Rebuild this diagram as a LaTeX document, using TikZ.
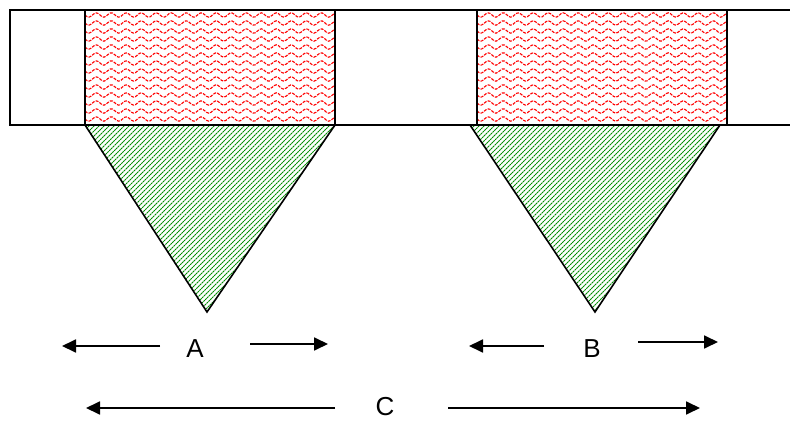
\documentclass[tikz,border=0pt]{standalone}
\usepackage{fontspec}
\setmainfont{Liberation Sans}
\usetikzlibrary{arrows.meta}
\begin{document}
\begin{tikzpicture}[x=1pt,y=-1pt,
  outline/.style={line width=1.6pt,black},
  dimarrow/.style={line width=1.8pt,-{Triangle[length=14pt,width=13pt]}},
  lbl/.style={font=\fontsize{26}{30}\selectfont,inner sep=0pt},
  wave/.style={red,line width=1.1pt,dash pattern=on 3pt off 1.2pt},
  hatch/.style={green!55!black,line width=1pt,dash pattern=on 2pt off 0.6pt}]
\useasboundingbox (0,0) rectangle (790,422);
% red wavy fills
\foreach \xa/\xb in {85/335,477/727}{
  \begin{scope}
    \clip (\xa,10) rectangle (\xb,125);
    \foreach \yy in {15,23,...,123}{
      \draw[wave] plot[domain=\xa:\xb,samples=120] (\x,{\yy+2.2*sin(24*(\x-\xa))});
    }
  \end{scope}
}
% green hatch triangles
\coordinate (ta1) at (85,125); \coordinate (ta2) at (335,125); \coordinate (ta3) at (207,312);
\coordinate (tb1) at (470,125); \coordinate (tb2) at (720,125); \coordinate (tb3) at (595,312);
\begin{scope}
  \clip (ta1) -- (ta2) -- (ta3) -- cycle;
  \foreach \s in {-120,-115,...,360}{\draw[hatch] (\s,320) -- (\s+200,120);}
\end{scope}
\begin{scope}
  \clip (tb1) -- (tb2) -- (tb3) -- cycle;
  \foreach \s in {260,265,...,740}{\draw[hatch] (\s,320) -- (\s+200,120);}
\end{scope}
% band outlines
\draw[outline] (790,10) -- (10,10) -- (10,125) -- (790,125);
\draw[outline] (85,10) -- (85,125) (335,10) -- (335,125);
\draw[outline] (477,10) -- (477,125) (727,10) -- (727,125);
\draw[outline] (ta1) -- (ta3) -- (ta2);
\draw[outline] (tb1) -- (tb3) -- (tb2);
% labels
\node[lbl] (A) at (195,349) {A};
\node[lbl] (B) at (592,349) {B};
\node[lbl] (C) at (385,407) {C};
\coordinate (a1) at (160,346); \coordinate (a1e) at (62,346);
\coordinate (a2) at (250,344); \coordinate (a2e) at (328,344);
\coordinate (b1) at (544,346); \coordinate (b1e) at (469,346);
\coordinate (b2) at (638,342); \coordinate (b2e) at (718,342);
\coordinate (c1) at (335,408); \coordinate (c1e) at (86,408);
\coordinate (c2) at (448,408); \coordinate (c2e) at (700,408);
\draw[dimarrow] (a1) -- (a1e);
\draw[dimarrow] (a2) -- (a2e);
\draw[dimarrow] (b1) -- (b1e);
\draw[dimarrow] (b2) -- (b2e);
\draw[dimarrow] (c1) -- (c1e);
\draw[dimarrow] (c2) -- (c2e);
\end{tikzpicture}
\end{document}
